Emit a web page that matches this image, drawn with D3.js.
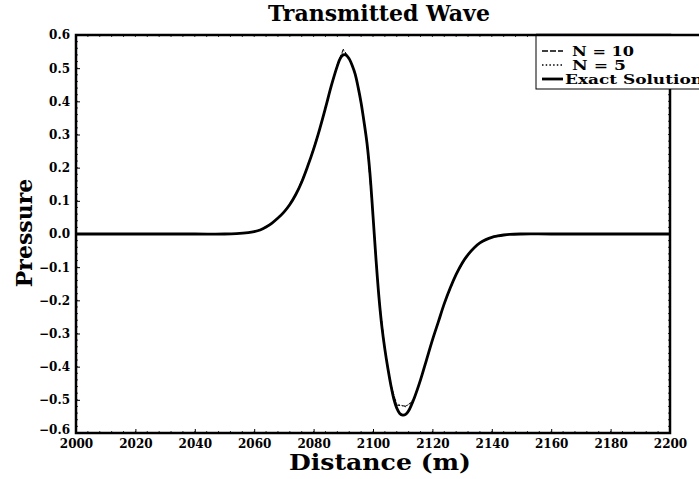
<!DOCTYPE html>
<html>
<head>
<meta charset="utf-8">
<script src="https://cdn.jsdelivr.net/npm/d3@7"></script>
<style>
  body { margin: 0; background: #fff; }
  text { font-family: "DejaVu Serif", "Liberation Serif", serif; font-weight: bold; fill: #000; }
</style>
</head>
<body>
<svg id="chart" width="699" height="479"></svg>
<script>
// Tick values for both axes
const xTicks = [2000, 2020, 2040, 2060, 2080, 2100, 2120, 2140, 2160, 2180, 2200];
const yTicks = [-0.6, -0.5, -0.4, -0.3, -0.2, -0.1, 0.0, 0.1, 0.2, 0.3, 0.4, 0.5, 0.6];

// Exact solution: distance (m) and pressure
const exactX = [2000, 2040, 2050, 2054, 2058, 2060, 2062, 2064, 2066, 2068, 2070, 2072, 2074, 2076, 2078,
  2080, 2082, 2084, 2086, 2088, 2089, 2090, 2091, 2092, 2093, 2094, 2095, 2096, 2097, 2098, 2099,
  2100, 2101, 2102, 2103, 2104, 2105, 2106, 2107, 2108, 2109, 2110, 2111, 2112, 2114, 2116, 2118,
  2120, 2122, 2124, 2126, 2128, 2130, 2132, 2134, 2136, 2138, 2140, 2142, 2144, 2146, 2150, 2160, 2200];
const exactP = [0, 0, 0, 0.001, 0.004, 0.007, 0.012, 0.021, 0.033, 0.048, 0.066, 0.089, 0.119, 0.157, 0.204,
  0.256, 0.315, 0.380, 0.448, 0.507, 0.530, 0.540, 0.539, 0.528, 0.508, 0.482, 0.442, 0.395, 0.337, 0.272, 0.180,
  0.055, -0.075, -0.190, -0.280, -0.348, -0.405, -0.455, -0.497, -0.525, -0.541, -0.546, -0.544, -0.533, -0.492, -0.440, -0.380,
  -0.320, -0.265, -0.210, -0.163, -0.122, -0.088, -0.062, -0.042, -0.027, -0.017, -0.010, -0.006, -0.003, -0.001, 0, 0, 0];

// Numerical solution, N = 10
const n10X = [2000, 2050, 2054, 2058, 2062, 2066, 2070, 2074, 2078, 2082, 2086, 2088, 2090, 2092, 2094, 2096,
  2098, 2100, 2102, 2104, 2106, 2108, 2111, 2113, 2114, 2116, 2118, 2120, 2124, 2128, 2132, 2136, 2140, 2146, 2150, 2200];
const n10P = [0, 0, 0.001, 0.004, 0.012, 0.033, 0.066, 0.119, 0.204, 0.315, 0.448, 0.512, 0.557, 0.530, 0.482, 0.395,
  0.272, 0.055, -0.190, -0.348, -0.455, -0.516, -0.519, -0.508, -0.492, -0.440, -0.380, -0.320, -0.210, -0.122, -0.062, -0.027, -0.010, -0.001, 0, 0];

// Numerical solution, N = 5
const n5X = [2000, 2050, 2054, 2058, 2062, 2066, 2070, 2074, 2078, 2082, 2086, 2088, 2090, 2092, 2094, 2096,
  2098, 2100, 2102, 2104, 2106, 2108, 2111, 2113, 2114, 2116, 2118, 2120, 2124, 2128, 2132, 2136, 2140, 2146, 2150, 2200];
const n5P = [0, 0, 0.001, 0.004, 0.012, 0.033, 0.066, 0.119, 0.204, 0.315, 0.448, 0.510, 0.553, 0.529, 0.482, 0.395,
  0.272, 0.055, -0.190, -0.348, -0.455, -0.512, -0.521, -0.505, -0.492, -0.440, -0.380, -0.320, -0.210, -0.122, -0.062, -0.027, -0.010, -0.001, 0, 0];

const legendLabels = ["N = 10", "N = 5", "Exact Solution"];

const W = 699, H = 479;
const margin = { left: 76, right: 29, top: 35, bottom: 46 };
const pw = W - margin.left - margin.right;
const ph = H - margin.top - margin.bottom;

const svg = d3.select("#chart");
svg.append("rect").attr("width", W).attr("height", H).attr("fill", "#fff");

const x = d3.scaleLinear().domain([2000, 2200]).range([margin.left, margin.left + pw]);
const y = d3.scaleLinear().domain([-0.6, 0.6]).range([margin.top + ph, margin.top]);

const g = svg.append("g");

// Minor tick marks along the frame
const xMinor = d3.range(2000, 2200.1, 4);
const yMinor = d3.range(-0.6, 0.6001, 0.02);
const minor = g.append("g").attr("stroke", "#000").attr("stroke-width", 0.8);
xMinor.forEach(v => {
  minor.append("line").attr("x1", x(v)).attr("x2", x(v)).attr("y1", y(-0.6)).attr("y2", y(-0.6) - 2);
  minor.append("line").attr("x1", x(v)).attr("x2", x(v)).attr("y1", y(0.6)).attr("y2", y(0.6) + 2);
});
yMinor.forEach(v => {
  minor.append("line").attr("x1", x(2000)).attr("x2", x(2000) + 2).attr("y1", y(v)).attr("y2", y(v));
  minor.append("line").attr("x1", x(2200)).attr("x2", x(2200) - 2).attr("y1", y(v)).attr("y2", y(v));
});

// Axes
const xAxis = g.append("g")
  .attr("transform", `translate(0,${margin.top + ph})`)
  .call(d3.axisBottom(x).tickValues(xTicks).tickSize(-4).tickPadding(6).tickFormat(d3.format("d")));
const yAxis = g.append("g")
  .attr("transform", `translate(${margin.left},0)`)
  .call(d3.axisLeft(y).tickValues(yTicks).tickSize(-4).tickPadding(6).tickFormat(d3.format(".1f")));
[xAxis, yAxis].forEach(a => {
  a.select(".domain").remove();
  a.selectAll("line").attr("stroke", "#000").attr("stroke-width", 1);
  a.selectAll("text").style("font-size", "12px").style("font-family", '"DejaVu Serif", serif').style("font-weight", "bold").attr("fill", "#000");
});
// the lowest pressure label sits just above the distance labels
yAxis.selectAll(".tick").filter(d => d === -0.6).select("text").attr("dy", "0.05em");

// Curves
const exactData = exactX.map((v, i) => [v, exactP[i]]);
const n10Data = n10X.map((v, i) => [v, n10P[i]]);
const n5Data = n5X.map((v, i) => [v, n5P[i]]);
const smooth = d3.line().x(d => x(d[0])).y(d => y(d[1])).curve(d3.curveCatmullRom);
const straight = d3.line().x(d => x(d[0])).y(d => y(d[1]));

g.append("path").datum(exactData)
  .attr("d", smooth)
  .attr("fill", "none").attr("stroke", "#000").attr("stroke-width", 2.8).attr("stroke-linejoin", "round");
g.append("path").datum(n10Data)
  .attr("d", straight)
  .attr("fill", "none").attr("stroke", "#000").attr("stroke-width", 1).attr("stroke-dasharray", "5,2");
g.append("path").datum(n5Data)
  .attr("d", straight)
  .attr("fill", "none").attr("stroke", "#000").attr("stroke-width", 1).attr("stroke-dasharray", "1.2,2");

// Frame
g.append("rect")
  .attr("x", margin.left).attr("y", margin.top).attr("width", pw).attr("height", ph)
  .attr("fill", "none").attr("stroke", "#000").attr("stroke-width", 2.5);

// Legend
const lg = svg.append("g");
lg.append("rect").attr("x", 536).attr("y", margin.top).attr("width", 180).attr("height", 54)
  .attr("fill", "#fff").attr("stroke", "#000").attr("stroke-width", 1);
lg.append("line").attr("x1", 536).attr("x2", 699).attr("y1", margin.top).attr("y2", margin.top)
  .attr("stroke", "#000").attr("stroke-width", 2.5);
const legendStyles = [
  { dash: "6,2", w: 1.6 },
  { dash: "1.5,2.2", w: 1.4 },
  { dash: null, w: 2.8 }
];
const legendText = [
  { x: 572, len: 62 },
  { x: 572, len: 54 },
  { x: 565, len: 138 }
];
legendLabels.forEach((lab, i) => {
  const cy = 51 + i * 14;
  const ln = lg.append("line").attr("x1", 542).attr("x2", 563).attr("y1", cy).attr("y2", cy)
    .attr("stroke", "#000").attr("stroke-width", legendStyles[i].w);
  if (legendStyles[i].dash) ln.attr("stroke-dasharray", legendStyles[i].dash);
  lg.append("text").attr("x", legendText[i].x).attr("y", cy + 4.5)
    .attr("textLength", legendText[i].len).attr("lengthAdjust", "spacingAndGlyphs")
    .style("font-size", "12px").text(lab);
});

// Titles
svg.append("text").attr("x", 379).attr("y", 21).attr("text-anchor", "middle")
  .style("font-size", "22px").text("Transmitted Wave");
svg.append("text").attr("x", 380).attr("y", 470).attr("text-anchor", "middle")
  .attr("textLength", 182).attr("lengthAdjust", "spacingAndGlyphs")
  .style("font-size", "22px").text("Distance (m)");
svg.append("text").attr("transform", "translate(32,233) rotate(-90)").attr("text-anchor", "middle")
  .style("font-size", "22px").text("Pressure");
</script>
</body>
</html>
